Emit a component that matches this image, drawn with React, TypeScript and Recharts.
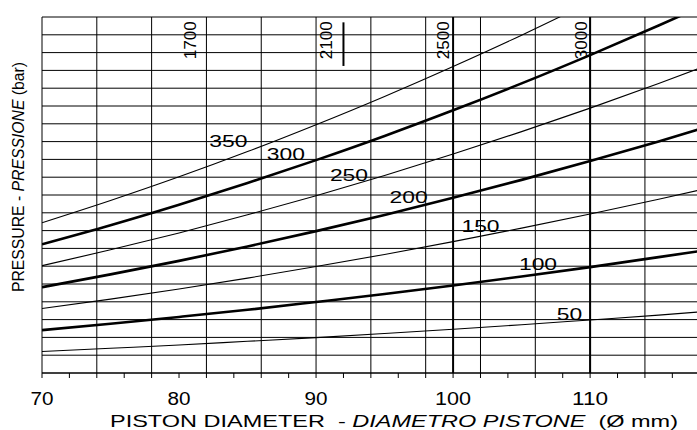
import React from 'react';
import { LineChart, Line, XAxis, YAxis, ReferenceLine, ReferenceDot } from 'recharts';

const FONT = '"Liberation Sans", Arial, Helvetica, sans-serif';

// piston bore (mm) at which each pressure curve is sampled
const DIAMETERS = [70, 75, 80, 85, 90, 95, 100, 105, 110, 115, 118];

// curve heights on the chart's 0-200 scale, one list per pressure (bar)
const P50 = [12.1, 13.9, 15.7, 17.8, 19.9, 22.2, 24.6, 27.1, 29.8, 32.5, 34.3];
const P100 = [24.1, 27.7, 31.5, 35.5, 39.9, 44.4, 49.2, 54.2, 59.5, 65.1, 68.5];
const P150 = [36.2, 41.5, 47.2, 53.3, 59.8, 66.6, 73.8, 81.4, 89.3, 97.6, 102.8];
const P200 = [48.2, 55.4, 63.0, 71.1, 79.7, 88.8, 98.4, 108.5, 119.1, 130.1, 137.0];
const P250 = [60.3, 69.2, 78.7, 88.9, 99.6, 111.0, 123.0, 135.6, 148.8, 162.7, 171.3];
const P300 = [72.3, 83.0, 94.5, 106.7, 119.6, 133.2, 147.6, 162.7, 178.6, 195.2, 205.5];
const P350 = [84.4, 96.9, 110.2, 124.4, 139.5, 155.4, 172.2, 189.8, 208.4, 227.7, 239.8];

const PRESSURES = [50, 100, 150, 200, 250, 300, 350];
const SERIES = [P50, P100, P150, P200, P250, P300, P350];
const HEAVY = [100, 200, 300];

const X_TICKS = [70, 72, 74, 76, 78, 80, 82, 84, 86, 88, 90, 92, 94, 96, 98, 100, 102, 104, 106, 108, 110, 112, 114, 116];
const X_LABELS = [70, 80, 90, 100, 110];
const X_GRID = [70, 74, 78, 82, 86, 90, 94, 98, 102, 106, 110, 114];
const X_HEAVY = [100, 110];
const Y_GRID = [0, 10, 20, 30, 40, 50, 60, 70, 80, 90, 100, 110, 120, 130, 140, 150, 160, 170, 180, 190, 200];

const TOP_MARKS = ['1700', '2100', '2500', '3000'];

// label anchors (x in mm, y on chart scale)
const TAG_AT: Record<number, [number, number]> = {
  350: [83.6, 130.3],
  300: [87.8, 123.3],
  250: [92.4, 111.2],
  200: [96.75, 98.9],
  150: [102.0, 82.6],
  100: [106.2, 61.3],
  50: [108.5, 33.3],
};
const TOP_MARK_X = [80.8, 90.75, 99.25, 109.35];

const rows = DIAMETERS.map((d, i) => {
  const row: Record<string, number> = { d };
  PRESSURES.forEach((p, k) => {
    row[`p${p}`] = SERIES[k][i];
  });
  return row;
});

const CurveTag = ({ viewBox, text }: any) => {
  const cx = viewBox.x + viewBox.width / 2;
  const cy = viewBox.y + viewBox.height / 2;
  const len = text.length * 12.7;
  return (
    <text x={cx - len / 2} y={cy + 6} fontSize={17} fontFamily={FONT} fill="#000"
      textLength={len} lengthAdjust="spacingAndGlyphs">{text}</text>
  );
};

const UpTag = ({ viewBox, text }: any) => {
  const cx = viewBox.x + viewBox.width / 2;
  const cy = viewBox.y + viewBox.height / 2;
  return (
    <text transform={`rotate(-90 ${cx} ${cy})`} x={cx - 19} y={cy + 6} fontSize={17}
      fontFamily={FONT} fill="#000" textLength={38} lengthAdjust="spacingAndGlyphs">{text}</text>
  );
};

const DiamTick = ({ x, payload }: any) => {
  if (!X_LABELS.includes(payload.value)) return <g />;
  const s = String(payload.value);
  const len = s.length === 2 ? 23 : 36;
  return (
    <text x={x - len / 2} y={405} fontSize={18} fontFamily={FONT} fill="#000"
      textLength={len} lengthAdjust="spacingAndGlyphs">{s}</text>
  );
};

const XTitle = () => (
  <text x={110} y={427} fontSize={17} fontFamily={FONT} fill="#000"
    textLength={568} lengthAdjust="spacingAndGlyphs">
    PISTON DIAMETER{'\u00a0\u00a0'}- <tspan fontStyle="italic">DIAMETRO PISTONE</tspan>{'\u00a0\u00a0'}(Ø mm)
  </text>
);

const YTitle = () => (
  <text transform="rotate(-90 18 177)" x={18 - 115} y={177 + 6} fontSize={17} fontFamily={FONT}
    fill="#000" textLength={230} lengthAdjust="spacingAndGlyphs">
    PRESSURE - <tspan fontStyle="italic">PRESSIONE</tspan> (bar)
  </text>
);

export default function App() {
  return (
    <div style={{ position: 'absolute', left: 0, top: 0, width: 697, height: 430, overflow: 'hidden', background: '#fff' }}>
      <LineChart width={697} height={430} data={rows} margin={{ top: 17, right: 0, bottom: 0, left: 0 }}>
        <XAxis type="number" dataKey="d" domain={[70, 117.8]} allowDataOverflow ticks={X_TICKS} interval={0}
          tickSize={5} height={57} axisLine={{ stroke: '#000' }} tickLine={{ stroke: '#000' }}
          tick={<DiamTick />} label={<XTitle />} />
        <YAxis type="number" domain={[0, 200]} allowDataOverflow width={42} axisLine={false}
          tickLine={false} tick={false} label={<YTitle />} />

        {Y_GRID.map(v => (
          <ReferenceLine key={`h${v}`} y={v} stroke="#000" strokeWidth={1} />
        ))}
        {X_GRID.map(v => (
          <ReferenceLine key={`v${v}`} x={v} stroke="#000" strokeWidth={1} />
        ))}
        {X_HEAVY.map(v => (
          <ReferenceLine key={`vh${v}`} x={v} stroke="#000" strokeWidth={2} />
        ))}
        <ReferenceLine segment={[{ x: 92, y: 197 }, { x: 92, y: 172.5 }]} stroke="#000" strokeWidth={2} />

        {PRESSURES.map(p => (
          <Line key={p} type="monotone" dataKey={`p${p}`} stroke="#000"
            strokeWidth={HEAVY.includes(p) ? 2.6 : 1.1} dot={false} activeDot={false}
            isAnimationActive={false} />
        ))}

        {PRESSURES.map(p => (
          <ReferenceDot key={`t${p}`} x={TAG_AT[p][0]} y={TAG_AT[p][1]} r={0} fill="none" stroke="none"
            label={<CurveTag text={String(p)} />} />
        ))}
        {TOP_MARKS.map((m, i) => (
          <ReferenceDot key={m} x={TOP_MARK_X[i]} y={187} r={0} fill="none" stroke="none"
            label={<UpTag text={m} />} />
        ))}
      </LineChart>
    </div>
  );
}
